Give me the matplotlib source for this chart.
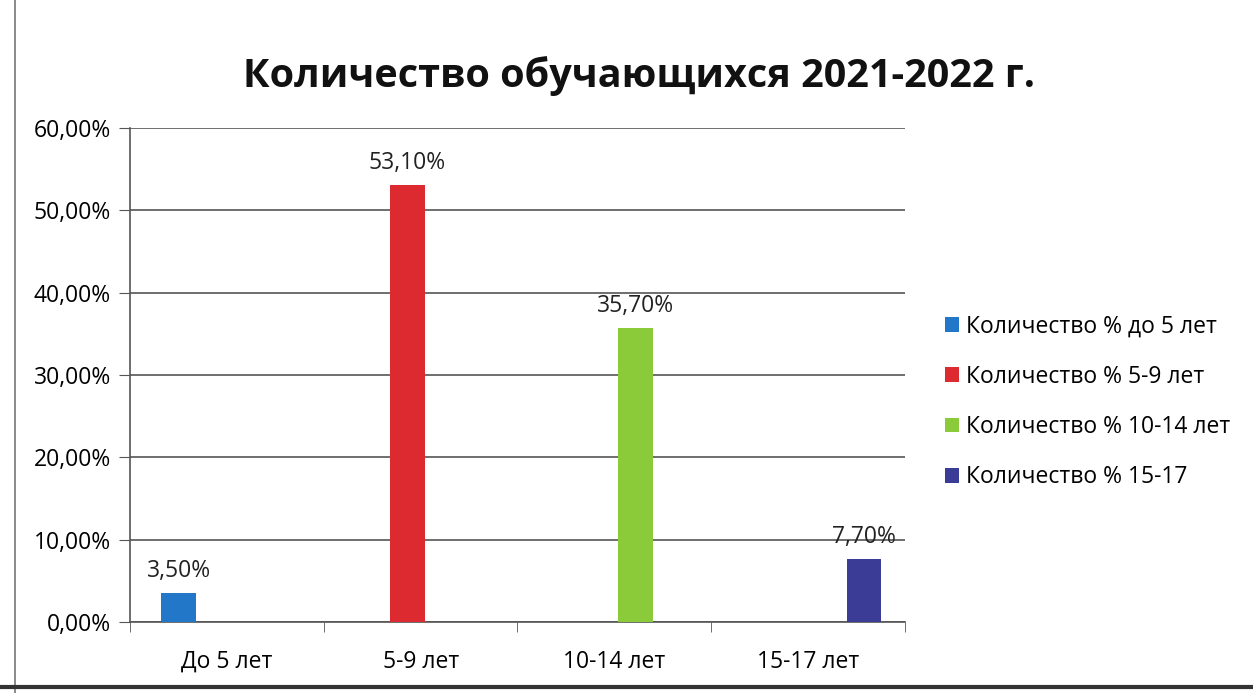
import numpy as np
import matplotlib

matplotlib.use("Agg")
import matplotlib.pyplot as plt
from matplotlib.patches import Patch
from matplotlib.ticker import FuncFormatter

plt.rcParams["font.family"] = ["Open Sans", "DejaVu Sans"]

TITLE = "Количество обучающихся 2021-2022 г."
categories = ["До 5 лет", "5-9 лет", "10-14 лет", "15-17 лет"]
series_names = [
    "Количество % до 5 лет",
    "Количество % 5-9 лет",
    "Количество % 10-14 лет",
    "Количество % 15-17",
]
# each series has a value only in its own category
values = [3.5, 53.1, 35.7, 7.7]
colors = ["#2277C8", "#DC2A30", "#8BCB3A", "#3A3C96"]

fig = plt.figure(figsize=(12.53, 6.93), dpi=100, facecolor="white")
ax = fig.add_axes([0.104, 0.1025, 0.618, 0.7125])

n_ser = len(series_names)
slot = 0.18
x = np.arange(len(categories))
for i, (name, val, col) in enumerate(zip(series_names, values, colors)):
    xpos = x[i] + (i - (n_ser - 1) / 2) * slot + 0.02
    ax.bar(xpos, val, width=slot, color=col, label=name, zorder=3)
    ax.text(xpos, val + 1.2, f"{val:.2f}%".replace(".", ","), ha="center", va="bottom",
            fontsize=16.5, color="#222222")

ax.set_xlim(-0.5, len(categories) - 0.5)
ax.set_ylim(0, 60)
ax.set_yticks(np.arange(0, 61, 10))
ax.yaxis.set_major_formatter(FuncFormatter(lambda v, _: f"{v:.2f}%".replace(".", ",")))
ax.set_xticks(x)
ax.set_xticklabels(categories)
ax.set_xticks(np.arange(-0.5, len(categories)), minor=True)
ax.tick_params(axis="x", which="major", length=0, pad=20, labelsize=16.5)
ax.tick_params(axis="x", which="minor", length=7, color="#555555")
ax.tick_params(axis="y", length=8, color="#555555", pad=6, labelsize=16.5)
ax.grid(axis="y", color="#555555", linewidth=1.2, zorder=0)
for side in ("top", "right"):
    ax.spines[side].set_visible(False)
for side in ("left", "bottom"):
    ax.spines[side].set_color("#555555")
    ax.spines[side].set_linewidth(1.2)

fig.text(0.51, 0.89, TITLE, ha="center", va="center", fontsize=28.5, fontweight="bold", color="#111111")

handles = [Patch(facecolor=c, label=n) for n, c in zip(series_names, colors)]
fig.legend(handles=handles, loc="center left", bbox_to_anchor=(0.738, 0.42), frameon=False,
           fontsize=16.5, handlelength=0.6, handleheight=0.6, handletextpad=0.3, labelspacing=1.15)

# scan borders
fig.add_artist(plt.Line2D([0.012, 0.012], [0.0, 1.0], color="#777777", linewidth=1.2))
fig.add_artist(plt.Line2D([0.0, 1.0], [0.008, 0.008], color="#333333", linewidth=3))

fig.savefig("out.png", dpi=100, facecolor="white")
